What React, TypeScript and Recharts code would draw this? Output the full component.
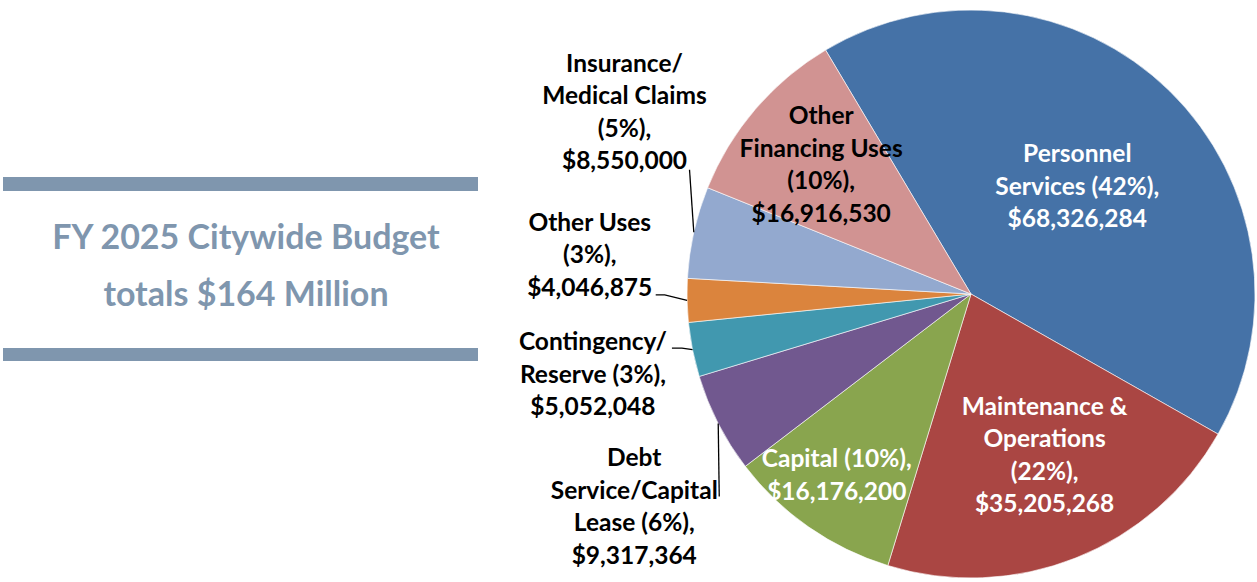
import React from 'react';
import { PieChart, Pie, Cell } from 'recharts';

// ---- data ----
const categories = [
  'Personnel Services',
  'Maintenance & Operations',
  'Capital',
  'Debt Service/Capital Lease',
  'Contingency/Reserve',
  'Other Uses',
  'Insurance/Medical Claims',
  'Other Financing Uses',
];
const amounts = [68326284, 35205268, 16176200, 9317364, 5052048, 4046875, 8550000, 16916530];
const labelTexts: string[][] = [
  ['Personnel', 'Services (42%),'],
  ['Maintenance &', 'Operations', '(22%),'],
  ['Capital (10%),'],
  ['Debt', 'Service/Capital', 'Lease (6%),'],
  ['Contingency/', 'Reserve (3%),'],
  ['Other Uses', '(3%),'],
  ['Insurance/', 'Medical Claims', '(5%),'],
  ['Other', 'Financing  Uses', '(10%),'],
];
const titleLines = ['FY 2025 Citywide Budget', 'totals $164 Million'];

// ---- styles ----
const colors = ['#4572A7', '#AA4643', '#89A54E', '#71588F', '#4198AF', '#DB843D', '#93A9CF', '#D19392'];
type Layout = { r: number; shift: number; color: string; anchor?: [number, number]; elbow?: number };
const labelLayout: Layout[] = [
  { r: 0.535, shift: 0, color: '#ffffff' },
  { r: 0.62, shift: 3, color: '#ffffff' },
  { r: 0.79, shift: -1.9, color: '#ffffff' },
  { r: 1.4, shift: 5, color: '#000000', anchor: [85, -9] },
  { r: 1.36, shift: 0.5, color: '#000000', anchor: [79, -25], elbow: 10 },
  { r: 1.35, shift: -7.3, color: '#000000', anchor: [66, 41], elbow: 9 },
  { r: 1.38, shift: -15.3, color: '#000000', anchor: [65, 59] },
  { r: 0.7, shift: -0.5, color: '#000000' },
];
const FONT = 'Lato, "Open Sans", sans-serif';
const LABEL_SIZE = 24.5;
const LINE_H = 32.5;
const TITLE_COLOR = '#7F96AE';

const data = categories.map((name, i) => ({ name, value: amounts[i] }));
const fmt = (v: number) => '$' + v.toLocaleString('en-US');
const RAD = Math.PI / 180;

const renderLabel = (props: any) => {
  const { cx, cy, midAngle, outerRadius, index, value } = props;
  const lay = labelLayout[index];
  const ang = midAngle + lay.shift;
  const r = outerRadius * lay.r;
  const x = cx + r * Math.cos(-ang * RAD);
  const y = cy + r * Math.sin(-ang * RAD);
  const lines = [...labelTexts[index], fmt(value)];
  const n = lines.length;
  let leader = null;
  if (lay.anchor) {
    const ex = cx + outerRadius * Math.cos(-midAngle * RAD);
    const ey = cy + outerRadius * Math.sin(-midAngle * RAD);
    const ax = x + lay.anchor[0];
    const ay = y + lay.anchor[1];
    const pts = lay.elbow
      ? `${ax},${ay} ${ax + lay.elbow},${ay} ${ex},${ey}`
      : `${ax},${ay} ${ex},${ey}`;
    leader = <polyline points={pts} fill="none" stroke="#000" strokeWidth={1.3} />;
  }
  return (
    <g>
      {leader}
      <text
        x={x}
        y={y}
        textAnchor="middle"
        fill={lay.color}
        fontFamily={FONT}
        fontWeight={700}
        fontSize={LABEL_SIZE}
      >
        {lines.map((t, i) => (
          <tspan key={i} x={x} y={y + (i - (n - 1) / 2) * LINE_H} dominantBaseline="central">
            {t}
          </tspan>
        ))}
      </text>
    </g>
  );
};

export default function App() {
  return (
    <div style={{ position: 'absolute', left: 0, top: 0, width: 1257, height: 582, background: '#fff' }}>
      <svg width={490} height={582} style={{ position: 'absolute', left: 0, top: 0 }}>
        <rect x={3} y={177} width={475} height={14} fill={TITLE_COLOR} />
        <rect x={3} y={348} width={475} height={13} fill={TITLE_COLOR} />
        {titleLines.map((t, i) => (
          <text
            key={i}
            x={246}
            y={249 + i * 57}
            textAnchor="middle"
            fill={TITLE_COLOR}
            fontFamily={FONT}
            fontWeight={700}
            fontSize={34}
          >
            {t}
          </text>
        ))}
      </svg>
      <div style={{ position: 'absolute', left: 0, top: 0 }}>
        <PieChart width={1257} height={582} margin={{ top: 0, right: 0, bottom: 0, left: 0 }}>
          <Pie
            data={data}
            dataKey="value"
            nameKey="name"
            cx={971}
            cy={294}
            outerRadius={284}
            startAngle={120.8}
            endAngle={-239.2}
            stroke="#ffffff"
            strokeWidth={0.6}
            label={renderLabel}
            labelLine={false}
            isAnimationActive={false}
          >
            {data.map((d, i) => (
              <Cell key={d.name} fill={colors[i]} />
            ))}
          </Pie>
        </PieChart>
      </div>
    </div>
  );
}
